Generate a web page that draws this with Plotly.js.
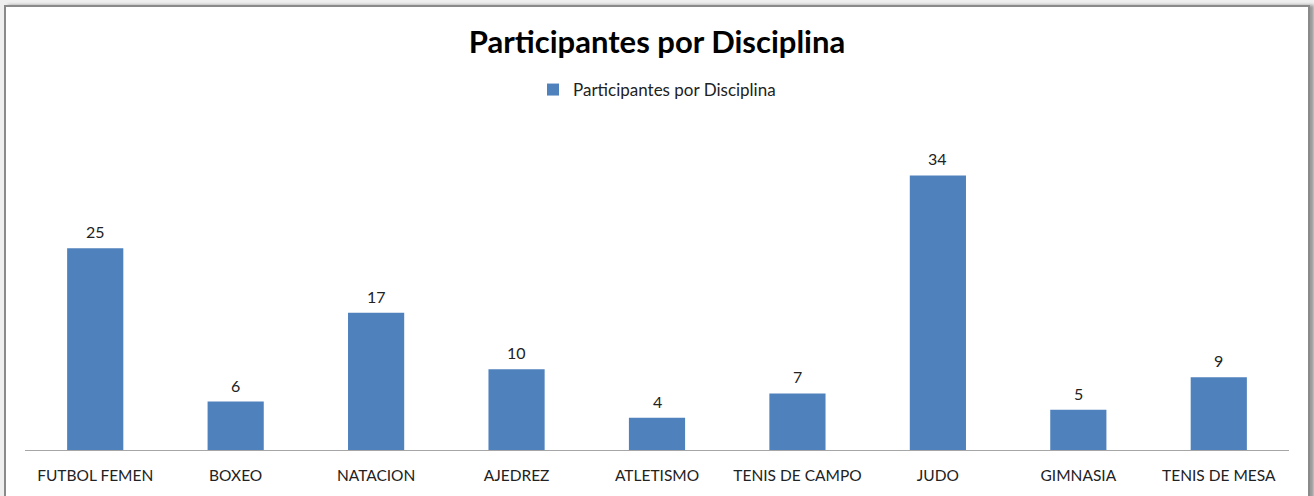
<!DOCTYPE html>
<html><head><meta charset="utf-8">
<script src="https://cdn.plot.ly/plotly-3.0.1.min.js"></script>
<style>
html,body{margin:0;padding:0;width:1314px;height:496px;overflow:hidden;background:#efefef;}
#frame{position:absolute;left:4px;top:5px;width:1302px;height:520px;border:2px solid #8a8a8a;background:#fff;box-shadow:4px 0 3px #9a9a9a;}
#chart{position:absolute;left:0;top:0;width:1314px;height:496px;}
</style></head>
<body>
<div id="frame"></div>
<div id="chart"></div>
<script>
const categories = ["FUTBOL FEMEN","BOXEO","NATACION","AJEDREZ","ATLETISMO","TENIS DE CAMPO","JUDO","GIMNASIA","TENIS DE MESA"];
const participantes = [25,6,17,10,4,7,34,5,9];
const seriesName = "Participantes por Disciplina";
const chartTitle = "Participantes por Disciplina";

const font = "Lato, 'Open Sans', sans-serif";
const trace = {
  type:'bar', x:categories, y:participantes, name:seriesName,
  marker:{color:'#4f81bd'}, showlegend:true, hoverinfo:'none'
};
const annotations = categories.map((c,i)=>({
  x:c, y:participantes[i], xref:'x', yref:'y', text:String(participantes[i]),
  showarrow:false, yanchor:'bottom', yshift:5, font:{family:font,size:16,color:'#222'}
}));
const layout = {
  width:1314, height:496,
  paper_bgcolor:'rgba(0,0,0,0)', plot_bgcolor:'rgba(0,0,0,0)',
  margin:{l:25,r:25,t:127,b:46},
  bargap:0.6,
  title:{text:'<b>'+chartTitle+'</b>', x:0.5, xanchor:'center', y:1-42/496, yanchor:'middle', yref:'container',
         font:{family:font,size:31,color:'#000'}},
  legend:{orientation:'h', x:0.5, xanchor:'center', y:1-90/496, yanchor:'middle', yref:'container',
          itemwidth:30, font:{family:font,size:17,color:'#222'}},
  xaxis:{showline:true, linecolor:'#a6a6a6', linewidth:1, ticks:'', showgrid:false, ticklabelstandoff:11,
         tickfont:{family:font,size:15.5,color:'#222'}, fixedrange:true},
  yaxis:{range:[0,40], visible:false, showgrid:false, zeroline:false, fixedrange:true},
  annotations:annotations
};
Plotly.newPlot('chart',[trace],layout,{displayModeBar:false,staticPlot:true});
</script>
</body></html>
